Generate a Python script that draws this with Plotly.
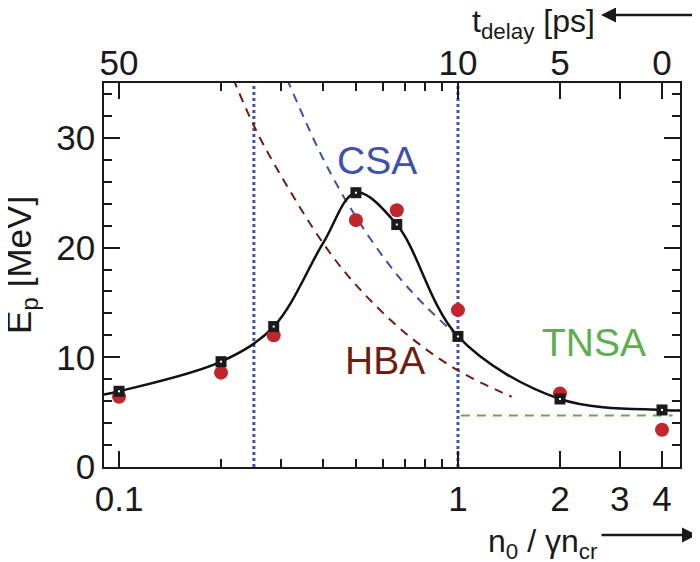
import plotly.graph_objects as go
import math

# ---- data ----
density = [0.1, 0.2, 0.286, 0.5, 0.66, 1.0, 2.0, 4.0]          # n0 / gamma n_cr
sim_energy = [6.9, 9.6, 12.8, 25.0, 22.1, 11.9, 6.2, 5.2]      # black squares
exp_energy = [6.4, 8.6, 12.0, 22.5, 23.4, 14.3, 6.7, 3.4]      # red circles

fit_x = [0.0903, 0.1, 0.2, 0.286, 0.4, 0.5, 0.66, 1.0, 2.0, 4.0, 4.52]
fit_y = [6.6, 6.9, 9.6, 12.8, 20.4, 25.0, 22.1, 11.9, 6.2, 5.2, 5.15]

csa_x = [0.3, 0.4, 0.5, 0.65, 0.8, 1.0]
csa_y = [36.7, 28.1, 22.8, 17.8, 14.7, 11.9]

hba_x = [0.2, 0.25, 0.3, 0.4, 0.5, 0.7, 1.0, 1.44]
hba_y = [38.1, 31.1, 26.6, 20.4, 16.6, 12.2, 8.8, 6.4]

tnsa_x = [1.02, 4.3]
tnsa_y = [4.7, 4.7]

vlines_x = [0.25, 1.0]

bottom_tickvals = [0.1, 1, 2, 3, 4]
bottom_ticktext = ["0.1", "1", "2", "3", "4"]
minor_tickvals = [0.2, 0.3, 0.4, 0.5, 0.6, 0.7, 0.8, 0.9]
top_tickvals = [0.1, 1, 2, 4]
top_ticktext = ["50", "10", "5", "0"]

x_range = [0.0903, 4.52]
y_range = [0, 35]

FONT = "Liberation Sans, Arial, Helvetica, sans-serif"
BLUE = "#3d51ad"
BROWN = "#6e1d12"
GREEN = "#5fae4d"
RED = "#c1262d"
INK = "#1a1a1a"

fig = go.Figure()

for xv in vlines_x:
    fig.add_trace(go.Scatter(x=[xv, xv], y=y_range, mode="lines",
                             line=dict(color=BLUE, width=3, dash="dot"),
                             hoverinfo="skip", showlegend=False))

fig.add_trace(go.Scatter(x=hba_x, y=hba_y, mode="lines",
                         line=dict(color=BROWN, width=2, dash="9px,7px", shape="spline"),
                         showlegend=False))
fig.add_trace(go.Scatter(x=csa_x, y=csa_y, mode="lines",
                         line=dict(color=BLUE, width=2, dash="9px,7px", shape="spline"),
                         showlegend=False))
fig.add_trace(go.Scatter(x=tnsa_x, y=tnsa_y, mode="lines",
                         line=dict(color=GREEN, width=2, dash="9px,7px"),
                         showlegend=False))

fig.add_trace(go.Scatter(x=fit_x, y=fit_y, mode="lines",
                         line=dict(color="#111111", width=2.5, shape="spline", smoothing=1.0),
                         showlegend=False))

fig.add_trace(go.Scatter(x=density, y=exp_energy, mode="markers",
                         marker=dict(color=RED, size=14, symbol="circle"),
                         showlegend=False))
fig.add_trace(go.Scatter(x=density, y=sim_energy, mode="markers",
                         marker=dict(color=INK, size=11, symbol="square"),
                         showlegend=False))
fig.add_trace(go.Scatter(x=density, y=sim_energy, mode="markers",
                         marker=dict(color="white", size=2, symbol="square"),
                         showlegend=False))

# invisible trace for the top axis
fig.add_trace(go.Scatter(x=x_range, y=y_range, mode="markers", xaxis="x2",
                         marker=dict(opacity=0), hoverinfo="skip", showlegend=False))

lr = [math.log10(x_range[0]), math.log10(x_range[1])]
TICKFONT = dict(size=35, family=FONT, color=INK)

# the page body adds an 8px offset; plot area in page pixels: x 104..680, y 83..467
OFF = 8
fig.update_layout(
    template="none",
    width=700, height=562,
    margin=dict(l=104 - OFF, r=700 - (680 - OFF), t=83 - OFF, b=562 - (467 - OFF),
                autoexpand=False),
    paper_bgcolor="white", plot_bgcolor="white",
    font=dict(family=FONT, size=35, color=INK),
    xaxis=dict(type="log", range=lr, showgrid=False, zeroline=False, automargin=False,
               showline=True, linecolor=INK, linewidth=1.5, mirror="ticks",
               ticks="inside", ticklen=16, tickwidth=1.5, tickcolor=INK,
               tickmode="array", tickvals=bottom_tickvals, ticktext=bottom_ticktext,
               minor=dict(tickmode="array", tickvals=minor_tickvals, ticks="inside",
                          ticklen=8, tickwidth=1.5, tickcolor=INK, showgrid=False),
               tickfont=TICKFONT),
    xaxis2=dict(type="log", range=lr, overlaying="x", side="top", anchor="y",
                automargin=False, showgrid=False, zeroline=False, showline=False, ticks="",
                tickmode="array", tickvals=top_tickvals, ticktext=top_ticktext,
                tickfont=TICKFONT),
    yaxis=dict(range=y_range, showgrid=False, zeroline=False, automargin=False,
               showline=True, linecolor=INK, linewidth=1.5, mirror="ticks",
               ticks="inside", ticklen=16, tickwidth=1.5, tickcolor=INK,
               tickmode="array", tickvals=[0, 10, 20, 30],
               minor=dict(dtick=2, tick0=0, ticks="inside", ticklen=8, tickwidth=1.5,
                          tickcolor=INK, showgrid=False),
               tickfont=TICKFONT),
)

W, H = 576.0, 384.0
def px(xp):
    return (xp - 104) / W
def py(yp):
    return (467 - yp) / H

def label(text, x, y, size, color=INK, xanchor="center", angle=0):
    return dict(text=text, x=px(x), y=py(y), xref="paper", yref="paper",
                xanchor=xanchor, yanchor="middle", textangle=angle, showarrow=False,
                font=dict(size=size, color=color, family=FONT))

ann = [
    label("CSA", 377, 160, 39, BLUE),
    label("HBA", 385, 360, 39, BROWN),
    label("TNSA", 594, 342, 39, GREEN),
    label("E<sub>p</sub> [MeV]", 21, 265, 35, angle=-90),
    label("n<sub>0</sub> / γn<sub>cr</sub>", 486, 543, 32, xanchor="left"),
    label("t<sub>delay</sub> [ps]", 597, 23, 32, xanchor="right"),
]
# arrows
ann.append(dict(text="", x=px(697), y=py(535), xref="paper", yref="paper",
                ax=-97, ay=0, showarrow=True, arrowhead=2, arrowsize=1.2,
                arrowwidth=2.5, arrowcolor=INK))
ann.append(dict(text="", x=px(601), y=py(15), xref="paper", yref="paper",
                ax=99, ay=0, showarrow=True, arrowhead=2, arrowsize=1.2,
                arrowwidth=2.5, arrowcolor=INK))
fig.update_layout(annotations=ann)

fig.write_html("out.html")
